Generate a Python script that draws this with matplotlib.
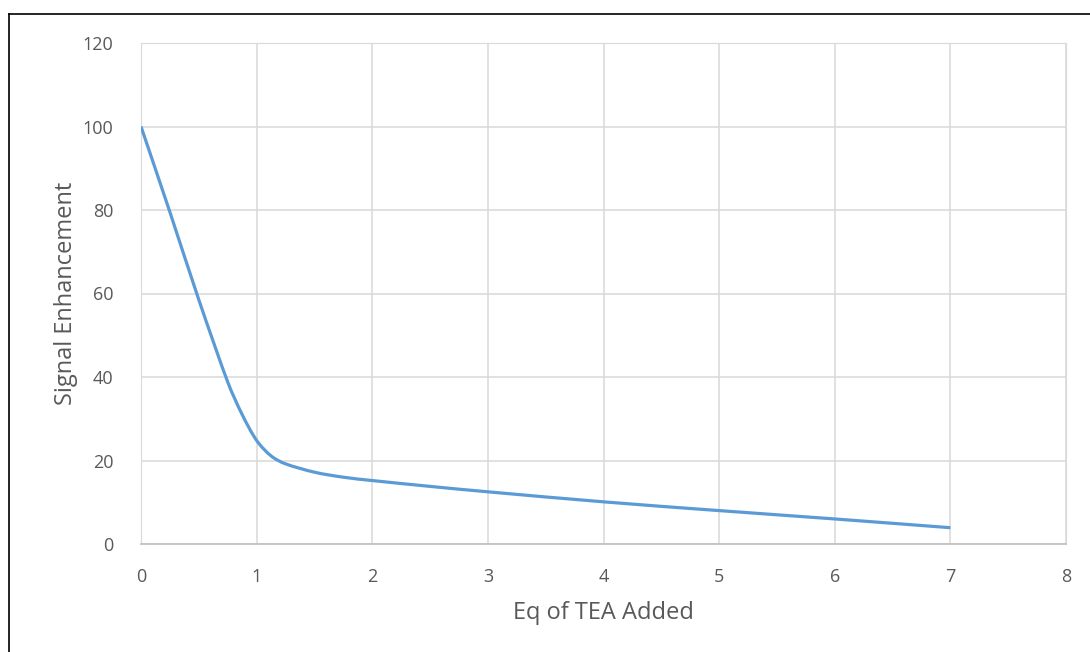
import numpy as np
import matplotlib
matplotlib.use('Agg')
import matplotlib.pyplot as plt
from matplotlib.path import Path
from matplotlib.patches import PathPatch
from matplotlib.lines import Line2D

# values
eq_tea = [0, 0.25, 0.5, 0.75, 0.875, 1, 1.125, 1.25, 1.5, 1.75, 2, 2.5, 3, 4, 5, 6, 7]
signal = [100, 79.5, 58.5, 38.8, 31, 24.8, 21.1, 19.2, 17.2, 16, 15.2, 13.8, 12.5, 10.1, 8, 6, 3.9]

x_ticks = [0, 1, 2, 3, 4, 5, 6, 7, 8]
y_ticks = [0, 20, 40, 60, 80, 100, 120]

plt.rcParams['font.family'] = ['Open Sans', 'DejaVu Sans']

fig = plt.figure(figsize=(10.9, 6.52), dpi=100)
ax = fig.add_axes([141 / 1090, 1 - 544 / 652, (1066 - 141) / 1090, (544 - 43) / 652])
ax.set_xlim(0, 8)
ax.set_ylim(0, 120)

# smoothed line (catmull-rom bezier, handles clipped to a third of each segment)
fig.canvas.draw()
pts = ax.transData.transform(np.column_stack([eq_tea, signal]))
n = len(pts)
verts = [pts[0]]
codes = [Path.MOVETO]
for i in range(n - 1):
    p1, p2 = pts[i], pts[i + 1]
    seg = np.hypot(*(p2 - p1)) / 3
    t1 = (pts[min(i + 1, n - 1)] - pts[max(i - 1, 0)]) / 6
    t2 = (pts[min(i + 2, n - 1)] - pts[i]) / 6
    t1 = t1 * min(1, seg / np.hypot(*t1))
    t2 = t2 * min(1, seg / np.hypot(*t2))
    verts += [p1 + t1, p2 - t2, p2]
    codes += [Path.CURVE4] * 3
verts = ax.transData.inverted().transform(np.array(verts))
ax.add_patch(PathPatch(Path(verts, codes), fill=False, edgecolor='#5B9BD5',
                       lw=2.3, capstyle='butt', zorder=3))

ax.set_xticks(x_ticks)
ax.set_yticks(y_ticks)
ax.grid(True, color='#D9D9D9', lw=1.1)
ax.set_axisbelow(True)
for s in ['top', 'right', 'left']:
    ax.spines[s].set_color('#D9D9D9')
ax.spines['bottom'].set_color('#BFBFBF')
ax.spines['bottom'].set_linewidth(1.2)
ax.tick_params(length=0, labelsize=13, labelcolor='#595959')
ax.tick_params(axis='x', pad=17)
ax.tick_params(axis='y', pad=20)

ax.set_xlabel('Eq of TEA Added', fontsize=17, color='#595959', labelpad=11)
ax.set_ylabel('Signal Enhancement', fontsize=17, color='#595959', labelpad=3)

# outer border (left and top edges visible)
fig.add_artist(Line2D([8.5 / 1090, 8.5 / 1090], [0, 1 - 14 / 652], color='black', lw=1.2))
fig.add_artist(Line2D([8.5 / 1090, 1], [1 - 14 / 652, 1 - 14 / 652], color='black', lw=1.2))

fig.savefig('out.png', dpi=100)
